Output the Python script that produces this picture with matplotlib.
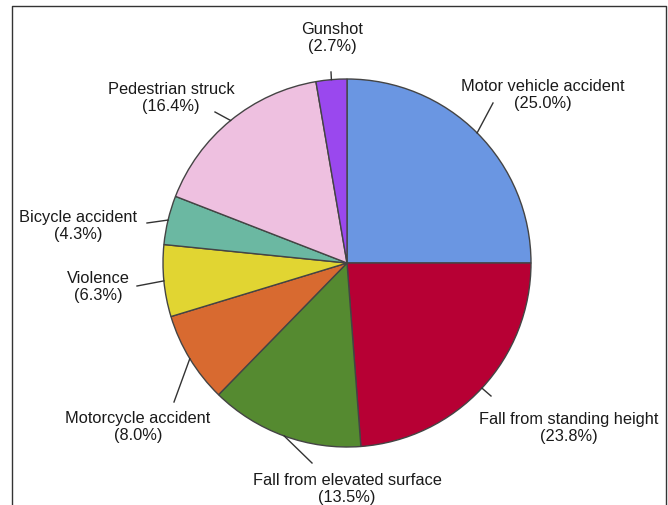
import numpy as np
import matplotlib
matplotlib.use("Agg")
import matplotlib.pyplot as plt

plt.rcParams['font.family'] = ['Liberation Sans', 'DejaVu Sans']

# data
labels = ["Motor vehicle accident", "Fall from standing height",
          "Fall from elevated surface", "Motorcycle accident", "Violence",
          "Bicycle accident", "Pedestrian struck", "Gunshot"]
shares = [25.0, 23.8, 13.5, 8.0, 6.3, 4.3, 16.4, 2.7]
colors = ["#6A96E2", "#B70034", "#558A30", "#D86A30",
          "#E1D532", "#6BB8A2", "#EEC0E0", "#9A48EE"]

# layout (image pixels, y measured from top)
W, H = 668, 505
cx, cy, R = 347, 263, 184
text_pos = [(543, 95), (569, 428), (347, 489), (138, 427),
            (98, 287), (78, 226), (171, 98), (332, 38)]
line_end = [(493, 103), (491, 396), (312, 463), (174, 402),
            (137, 286), (147, 223), (215, 112), (331, 72)]

fig = plt.figure(figsize=(W / 100, H / 100), dpi=100)
ax = fig.add_axes([0, 0, 1, 1])

ax.pie(shares, colors=colors, startangle=90, counterclock=False,
       center=(cx, H - cy), radius=R, frame=True,
       wedgeprops=dict(edgecolor='#444444', linewidth=1.0))
ax.set_xlim(0, W)
ax.set_ylim(0, H)
ax.set_aspect('equal')
ax.axis('off')

# leader lines + labels
cum = np.cumsum([0] + shares[:-1])
for i, lab in enumerate(labels):
    mid = np.deg2rad(90 - 3.6 * (cum[i] + shares[i] / 2))
    x0 = cx + R * np.cos(mid)
    y0 = (H - cy) + R * np.sin(mid)
    ex, ey = line_end[i]
    ax.plot([x0, ex], [y0, H - ey], color='#333333', lw=1.0)
    tx, ty = text_pos[i]
    ax.text(tx, H - ty, "%s\n(%.1f%%)" % (lab, shares[i]), ha='center',
            va='center', fontsize=11.8, color='#1a1a1a', linespacing=1.22)

# frame
ax.plot([12, 12, 666, 666], [0, H - 6, H - 6, 0], color='#333333', lw=1.0)

fig.savefig("out.png", dpi=100)
